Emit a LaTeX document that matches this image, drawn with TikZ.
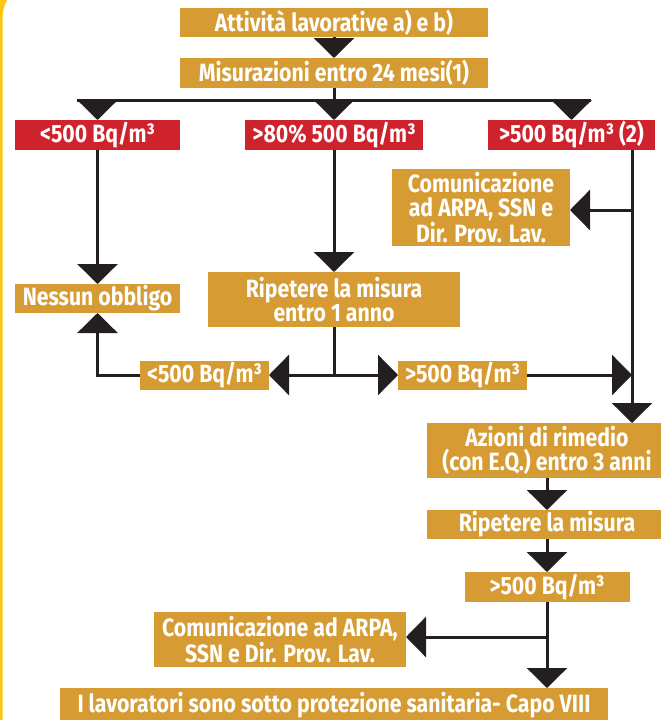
\documentclass[tikz,border=0pt]{standalone}
\usepackage{fontspec}
\newfontfamily\boxfont[FakeStretch=0.85]{Fira Sans}
\usetikzlibrary{arrows.meta}

\definecolor{gold}{RGB}{214,156,51}
\definecolor{alarm}{RGB}{206,34,44}
\definecolor{ink}{RGB}{35,31,32}
\definecolor{rim}{RGB}{253,196,18}

\tikzset{
  box/.style={fill=gold, text=white, inner sep=0pt, outer sep=0pt,
    align=center, font={\boxfont\bfseries\fontsize{25}{23.5}\selectfont}},
  alarmbox/.style={box, fill=alarm},
  wire/.style={draw=ink, line width=3pt},
  flow/.style={wire, -{Triangle[width=40pt,length=20pt]}},
}

\begin{document}
\begin{tikzpicture}[x=1pt,y=-1pt]
\useasboundingbox (0,0) rectangle (661,720);
% yellow rim on the left
\fill[rim] (0,0) -- (7,0) .. controls (3.5,6) and (2.5,12) .. (2.5,22)
  -- (2.5,720) -- (0,720) -- cycle;

% Add the boxes
\node[box, minimum width=308pt, minimum height=29pt] (att) at (334,22.5) {Attività lavorative a) e b)};
\node[box, minimum width=308pt, minimum height=30pt] (mis) at (334,73) {Misurazioni entro 24 mesi(1)};
\node[alarmbox, minimum width=165pt, minimum height=30pt] (low) at (97.5,135) {<500 Bq/m³};
\node[alarmbox, minimum width=178pt, minimum height=30pt] (mid) at (334,135) {>80\% 500 Bq/m³};
\node[alarmbox, minimum width=167pt, minimum height=30pt] (high) at (571.5,135) {>500 Bq/m³ (2)};
\node[box, minimum width=178pt, minimum height=77pt] (com1) at (481,207.5) {Comunicazione\\ad ARPA, SSN e\\Dir. Prov. Lav.};
\node[box, minimum width=165pt, minimum height=29pt] (none) at (97.5,298.5) {Nessun obbligo};
\node[box, minimum width=252pt, minimum height=55pt] (rip) at (334,299.5) {Ripetere la misura\\entro 1 anno};
\node[box, minimum width=129pt, minimum height=29pt] (lo2) at (204.5,375) {<500 Bq/m³};
\node[box, minimum width=129pt, minimum height=29pt] (hi2) at (462.5,375) {>500 Bq/m³};
\node[box, minimum width=240pt, minimum height=55pt] (azi) at (547,450.5) {Azioni di rimedio\\(con E.Q.) entro 3 anni};
\node[box, minimum width=240pt, minimum height=29pt] (rip2) at (547,524.5) {Ripetere la misura};
\node[box, minimum width=165pt, minimum height=30pt] (hi3) at (547,587) {>500 Bq/m³};
\node[box, minimum width=252pt, minimum height=55pt] (com2) at (280,639.5) {Comunicazione ad ARPA,\\SSN e Dir. Prov. Lav.};
\node[box, minimum width=548pt, minimum height=34pt] (fin) at (334,705) {I lavoratori sono sotto protezione sanitaria- Capo VIII};

% Joints
\coordinate (split) at (334,100);
\coordinate (barL) at (77,100);
\coordinate (barR) at (591,100);
\coordinate (drop) at (632,150);
\coordinate (tap) at (632,210);
\coordinate (fork) at (334,375);
\coordinate (tap2) at (547,637);

% Add the arrows
\draw[flow] (att) -- (mis);
\draw[wire] (mis) -- (split);
\draw[wire] (barL) -- (barR);
\draw[flow] (split -| low) -- (low);
\draw[flow] (split) -- (mid);
\draw[flow] (split -| high) -- (high);
\draw[flow] (low) -- (none);
\draw[flow] (mid) -- (rip);
\draw[flow] (drop) -- (drop |- azi.north);
\draw[flow] (tap) -- (tap -| com1.east);
\draw[wire] (rip) -- (fork);
\draw[flow] (fork) -- (lo2);
\draw[flow] (fork) -- (hi2);
\draw[flow] (lo2) -| (none);
\draw[flow] (hi2) -- (hi2 -| drop);
\draw[flow] (azi) -- (rip2);
\draw[flow] (rip2) -- (hi3);
\draw[flow] (hi3) -- (hi3 |- fin.north);
\draw[flow] (tap2) -- (tap2 -| com2.east);
\end{tikzpicture}
\end{document}
